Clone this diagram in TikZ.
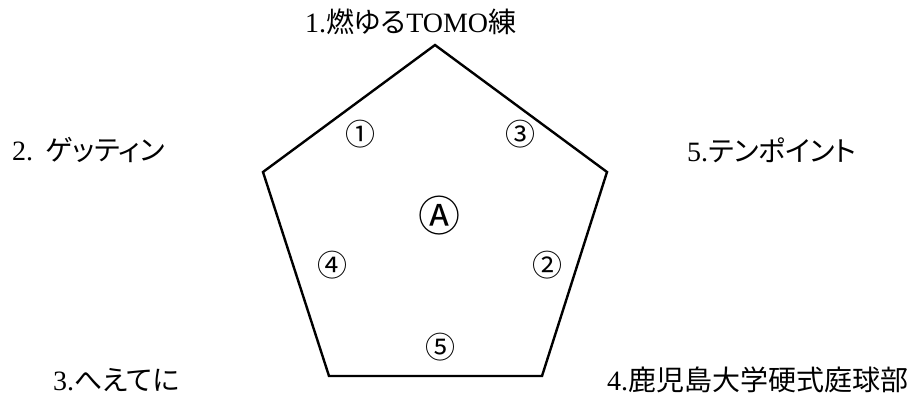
\documentclass[tikz,border=0pt]{standalone}
\usepackage{fontspec}
\setmainfont{Liberation Serif}
\newfontfamily\jp[RawFeature=+palt]{Noto Sans CJK JP}
\begin{document}
\begin{tikzpicture}[x=1pt,y=-1pt,
  lbl/.style={font=\fontsize{28}{30}\selectfont, inner sep=0pt, anchor=base west},
  circ/.style={font=\jp\fontsize{30}{32}\selectfont, inner sep=0pt},
  bigcirc/.style={font=\jp\fontsize{42}{44}\selectfont, inner sep=0pt},
  edge/.style={line width=2.4pt, line join=miter}]
\useasboundingbox (0,0) rectangle (920,400);
% pentagon
\coordinate (t) at (435,45);
\coordinate (r) at (607,172);
\coordinate (br) at (542,376);
\coordinate (bl) at (329,376);
\coordinate (l) at (263,172);
\draw[edge] (t) -- (r) -- (br) -- (bl) -- (l) -- cycle;
% labels
\node[lbl] (n1) at (305,32) {1.{\jp 燃ゆる}TOMO{\jp 練}};
\node[lbl] (n2) at (12,160) {2.\hspace{12pt}{\jp ゲッティン}};
\node[lbl] (n5) at (687,161) {5.{\jp テンポイント}};
\node[lbl] (n3) at (53,390) {3.{\jp へえてに}};
\node[lbl] (n4) at (607,390) {4.{\jp 鹿児島大学硬式庭球部}};
% circled marks
\node[circ] (c1) at (360,134) {①};
\node[circ] (c3) at (520,134) {③};
\node[bigcirc] (cA) at (439,216) {Ⓐ};
\node[circ] (c4) at (332,265) {④};
\node[circ] (c2) at (547,265) {②};
\node[circ] (c5) at (440,347) {⑤};
\end{tikzpicture}
\end{document}
